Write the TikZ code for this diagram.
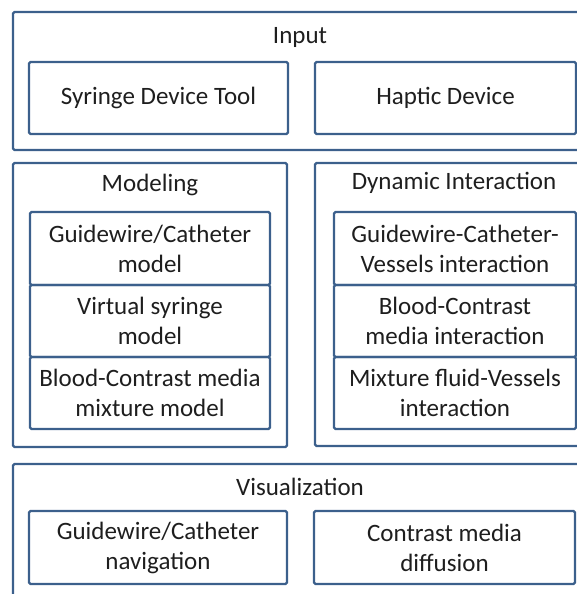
\documentclass[tikz,border=0pt]{standalone}
\usepackage{fontspec}
\setmainfont{Carlito}
\definecolor{bc}{RGB}{60,96,140}
\definecolor{tc}{RGB}{30,30,30}
\begin{document}
\begin{tikzpicture}[x=1pt,y=-1pt,
  box/.style={draw=bc, line width=2.2pt, rounded corners=1.5pt, inner sep=0pt, align=center, text=tc, font=\fontsize{25}{30}\selectfont},
  ttl/.style={inner sep=0pt, text=tc, font=\fontsize{25}{30}\selectfont}]
\useasboundingbox (0,0) rectangle (577,594);
\clip (0,0) rectangle (577,594);
% Input
\node[box, minimum width=574pt, minimum height=138pt] (inp) at (300,81) {};
\node[ttl] (inpt) at (300,37) {Input};
\node[box, minimum width=259pt, minimum height=72pt] (syr) at (158.5,98) {Syringe Device Tool};
\node[box, minimum width=261pt, minimum height=72pt] (hap) at (445.5,98) {Haptic Device};
% Modeling
\node[box, minimum width=274pt, minimum height=284pt] (mod) at (150,305) {};
\node[ttl] (modt) at (150,185) {Modeling};
\node[box, minimum width=240pt, minimum height=73pt] (m1) at (150,248.5) {Guidewire/Catheter\\model};
\node[box, minimum width=240pt, minimum height=72pt] (m2) at (150,321) {Virtual syringe\\model};
\node[box, minimum width=240pt, minimum height=72pt] (m3) at (150,393) {Blood-Contrast media\\mixture model};
% Dynamic interaction
\node[box, minimum width=278pt, minimum height=283pt] (dyn) at (454,304.5) {};
\node[ttl] (dynt) at (454,183) {Dynamic Interaction};
\node[box, minimum width=242pt, minimum height=73pt] (d1) at (455,248.5) {Guidewire-Catheter-\\Vessels interaction};
\node[box, minimum width=242pt, minimum height=72pt] (d2) at (455,321) {Blood-Contrast\\media interaction};
\node[box, minimum width=242pt, minimum height=72pt] (d3) at (455,393) {Mixture fluid-Vessels\\interaction};
% Visualization
\node[box, minimum width=574pt, minimum height=156pt] (vis) at (300,542) {};
\node[ttl] (vist) at (300,487) {Visualization};
\node[box, minimum width=258pt, minimum height=73pt] (v1) at (158,547.5) {Guidewire/Catheter\\navigation};
\node[box, minimum width=261pt, minimum height=73pt] (v2) at (444.5,547.5) {Contrast media\\diffusion};
\end{tikzpicture}
\end{document}
